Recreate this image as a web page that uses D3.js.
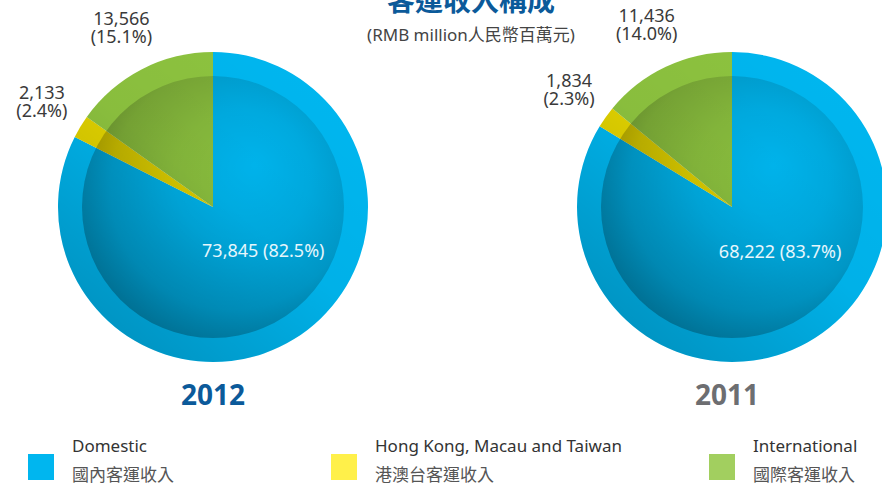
<!DOCTYPE html>
<html>
<head>
<meta charset="utf-8">
<script src="https://cdn.jsdelivr.net/npm/d3@7"></script>
<style>
  body { margin: 0; background: #fff; }
  text { font-family: "Noto Sans", "Noto Sans CJK TC", sans-serif; }
</style>
</head>
<body>
<div id="chart"></div>
<script>
// data
const categories = ["Domestic", "Hong Kong, Macau and Taiwan", "International"];
const categoriesZh = ["國內客運收入", "港澳台客運收入", "國際客運收入"];
const years = ["2012", "2011"];
const values2012 = [73845, 2133, 13566];
const values2011 = [68222, 1834, 11436];
const pct2012 = ["82.5%", "2.4%", "15.1%"];
const pct2011 = ["83.7%", "2.3%", "14.0%"];

const width = 882, height = 485;
const outerR = 155, innerR = 131;

const sliceColor = d3.scaleOrdinal().domain(categories).range(["#00b6ef", "#e2d300", "#8dc33f"]);
const legendColor = d3.scaleOrdinal().domain(categories).range(["#00b6ef", "#fff04a", "#a2cf5f"]);
const yearColor = d3.scaleOrdinal().domain(years).range(["#0b5a9a", "#6d6e71"]);

// pie centres along x
const cx = d3.scalePoint().domain(years).range([213, 732]);
const cy = 207;

const svg = d3.select("#chart").append("svg")
  .attr("width", width)
  .attr("height", height);

const defs = svg.append("defs");
let ringGrad = defs.append("linearGradient").attr("id", "ringShade")
  .attr("x1", "85%").attr("y1", "10%").attr("x2", "15%").attr("y2", "95%");
ringGrad.append("stop").attr("offset", "0%").attr("stop-color", "#000").attr("stop-opacity", 0);
ringGrad.append("stop").attr("offset", "45%").attr("stop-color", "#000").attr("stop-opacity", 0.03);
ringGrad.append("stop").attr("offset", "100%").attr("stop-color", "#000").attr("stop-opacity", 0.2);

let discGrad = defs.append("radialGradient").attr("id", "discShade")
  .attr("cx", "55%").attr("cy", "45%").attr("r", "58%")
  .attr("fx", "66%").attr("fy", "34%");
discGrad.append("stop").attr("offset", "0%").attr("stop-color", "#000").attr("stop-opacity", 0.0);
discGrad.append("stop").attr("offset", "45%").attr("stop-color", "#000").attr("stop-opacity", 0.06);
discGrad.append("stop").attr("offset", "80%").attr("stop-color", "#000").attr("stop-opacity", 0.15);
discGrad.append("stop").attr("offset", "100%").attr("stop-color", "#000").attr("stop-opacity", 0.27);

// title (cut at the top edge, as in the original)
svg.append("text")
  .attr("x", 471).attr("y", 11)
  .attr("text-anchor", "middle")
  .style("font-family", "'Noto Sans CJK TC', sans-serif")
  .style("font-weight", "bold")
  .style("font-size", "28px")
  .style("fill", "#0b5a9a")
  .text("客運收入構成");

svg.append("text")
  .attr("x", 471).attr("y", 41)
  .attr("text-anchor", "middle")
  .style("font-size", "17px")
  .style("fill", "#444")
  .text("(RMB million人民幣百萬元)");

const pie = d3.pie().sort(null);
const arc = d3.arc().innerRadius(0).outerRadius(outerR);
const centroidArc = d3.arc().innerRadius(0).outerRadius(innerR);
const labelArc = d3.arc().innerRadius(400).outerRadius(0); // centroid at r = 200
const fmt = d3.format(",");

function drawPie(year, values, pcts) {
  const g = svg.append("g")
    .attr("transform", "translate(" + cx(year) + "," + cy + ")");
  const arcs = pie(values);

  g.selectAll("path.slice")
    .data(arcs)
    .enter().append("path")
    .attr("class", "slice")
    .attr("d", arc)
    .attr("fill", (d, i) => sliceColor(categories[i]));

  g.append("circle").attr("r", outerR).attr("fill", "url(#ringShade)");
  g.append("circle").attr("r", innerR).attr("fill", "url(#discShade)");

  // domestic label inside the disc
  let c = centroidArc.centroid(arcs[0]);
  g.append("text")
    .attr("x", c[0] + 16).attr("y", c[1] - 6)
    .attr("text-anchor", "middle")
    .style("font-size", "18px")
    .style("fill", "#e6f6fc")
    .text(fmt(values[0]) + " (" + pcts[0] + ")");

  // outside labels for the two small slices
  for (let i = 1; i < values.length; i++) {
    let p = labelArc.centroid(arcs[i]);
    let t = g.append("text")
      .attr("text-anchor", "middle")
      .style("font-size", "18px")
      .style("fill", "#3a3a3a");
    t.append("tspan").attr("x", p[0]).attr("y", p[1] - 4).text(fmt(values[i]));
    t.append("tspan").attr("x", p[0]).attr("y", p[1] + 14).text("(" + pcts[i] + ")");
  }

  svg.append("text")
    .attr("x", cx(year) - (year == "2011" ? 5 : 0)).attr("y", 405)
    .attr("text-anchor", "middle")
    .style("font-weight", "bold")
    .style("font-size", "28px")
    .style("fill", yearColor(year))
    .text(year);
}

drawPie("2012", values2012, pct2012);
drawPie("2011", values2011, pct2011);

// legend
const legendX = d3.scaleOrdinal().domain(categories).range([28, 331, 709]);
const legend = svg.selectAll(".legend")
  .data(categories)
  .enter().append("g")
  .attr("class", "legend")
  .attr("transform", d => "translate(" + legendX(d) + ",454)");

legend.append("rect")
  .attr("width", 26).attr("height", 26)
  .attr("fill", d => legendColor(d));

legend.append("text")
  .attr("x", 44).attr("y", -2)
  .style("font-size", "17px")
  .style("fill", "#333")
  .text(d => d);

legend.append("text")
  .attr("x", 44).attr("y", 27)
  .style("font-family", "'Noto Sans CJK TC', sans-serif")
  .style("font-size", "17px")
  .style("fill", "#555")
  .text((d, i) => categoriesZh[i]);
</script>
</body>
</html>
